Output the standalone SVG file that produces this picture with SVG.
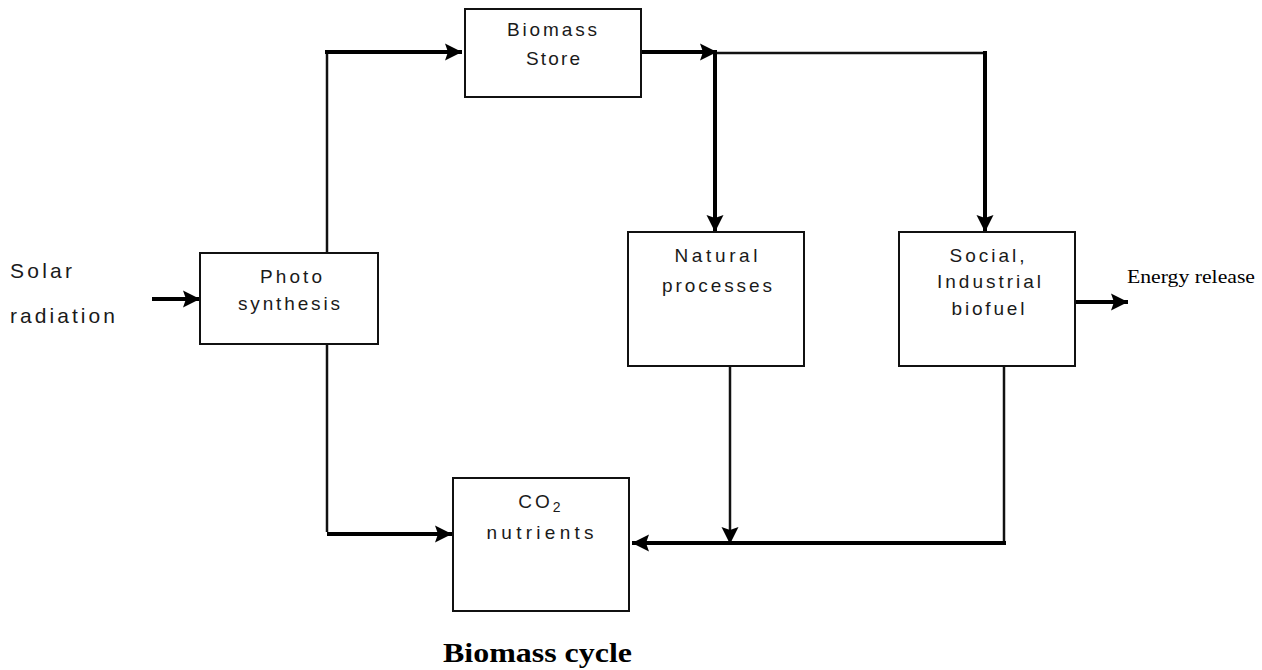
<svg xmlns="http://www.w3.org/2000/svg" width="1262" height="670" viewBox="0 0 1262 670">
<style>
.box{fill:#fff;stroke:#111;stroke-width:2}
.t{font-family:"Liberation Sans",Arial,sans-serif;font-size:19px;fill:#1a1a1a;text-anchor:middle}
.side{font-family:"Liberation Sans",Arial,sans-serif;font-size:21px;fill:#1a1a1a}
.thick{fill:none;stroke:#000;stroke-width:4}
.thin{fill:none;stroke:#111;stroke-width:2.5}
</style>
<defs>
<marker id="ah" markerUnits="userSpaceOnUse" markerWidth="18" markerHeight="18" refX="17" refY="8.5" orient="auto" viewBox="0 0 18 17">
<path d="M0,0 L17,8.5 L0,17 L3,8.5 z" fill="#000"/>
</marker>
</defs>
<rect width="1262" height="670" fill="#fff"/>
<g id="connectors">
<polyline class="thin" points="327,253 327,52"/>
<line class="thick" x1="325" y1="52" x2="462" y2="52" marker-end="url(#ah)"/>
<polyline class="thin" points="327,344 327,532"/>
<line class="thick" x1="327" y1="534" x2="452" y2="534" marker-end="url(#ah)"/>
<line class="thick" x1="152" y1="299" x2="200" y2="299" marker-end="url(#ah)"/>
<line class="thick" x1="641" y1="52" x2="717" y2="52" marker-end="url(#ah)"/>
<line class="thin" x1="715" y1="53" x2="986" y2="53"/>
<line class="thick" x1="715" y1="51" x2="715" y2="232" marker-end="url(#ah)"/>
<line class="thick" x1="985" y1="51" x2="985" y2="232" marker-end="url(#ah)"/>
<line class="thin" x1="730" y1="366" x2="730" y2="544" marker-end="url(#ah)"/>
<polyline class="thin" points="1004,366 1004,543"/>
<line class="thick" x1="1006" y1="543" x2="632" y2="543" marker-end="url(#ah)"/>
<line class="thick" x1="1075" y1="302" x2="1128" y2="302" marker-end="url(#ah)"/>
</g>
<g id="biomass-store">
<rect class="box" x="465" y="9" width="176" height="88"/>
<text class="t" x="552" y="36" textLength="90" lengthAdjust="spacing">Biomass</text>
<text class="t" x="553" y="65" textLength="54" lengthAdjust="spacing">Store</text>
</g>
<g id="photosynthesis">
<rect class="box" x="200" y="253" width="178" height="91"/>
<text class="t" x="291" y="283" textLength="62" lengthAdjust="spacing">Photo</text>
<text class="t" x="289" y="310" textLength="102" lengthAdjust="spacing">synthesis</text>
</g>
<g id="natural-processes">
<rect class="box" x="628" y="232" width="176" height="134"/>
<text class="t" x="716" y="262" textLength="83" lengthAdjust="spacing">Natural</text>
<text class="t" x="717" y="292" textLength="110" lengthAdjust="spacing">processes</text>
</g>
<g id="social-industrial">
<rect class="box" x="899" y="232" width="176" height="134"/>
<text class="t" x="987" y="262" textLength="75" lengthAdjust="spacing">Social,</text>
<text class="t" x="989" y="288" textLength="104" lengthAdjust="spacing">Industrial</text>
<text class="t" x="988" y="315" textLength="73" lengthAdjust="spacing">biofuel</text>
</g>
<g id="co2-nutrients">
<rect class="box" x="453" y="478" width="176" height="133"/>
<text class="t" x="541" y="508" letter-spacing="3">CO<tspan font-size="14" dy="4">2</tspan></text>
<text class="t" x="540" y="539" textLength="107" lengthAdjust="spacing">nutrients</text>
</g>
<g id="solar-radiation">
<text class="side" x="10" y="278" textLength="62" lengthAdjust="spacing">Solar</text>
<text class="side" x="10" y="323" textLength="105" lengthAdjust="spacing">radiation</text>
</g>
<g id="energy-release">
<text x="1127" y="283" font-family="'Liberation Serif','Times New Roman',serif" font-size="18" fill="#000" textLength="128" lengthAdjust="spacingAndGlyphs">Energy release</text>
</g>
<g id="title">
<text x="443" y="662" font-family="'Liberation Serif','Times New Roman',serif" font-size="27" font-weight="bold" fill="#000" textLength="189" lengthAdjust="spacingAndGlyphs">Biomass cycle</text>
</g>
</svg>
